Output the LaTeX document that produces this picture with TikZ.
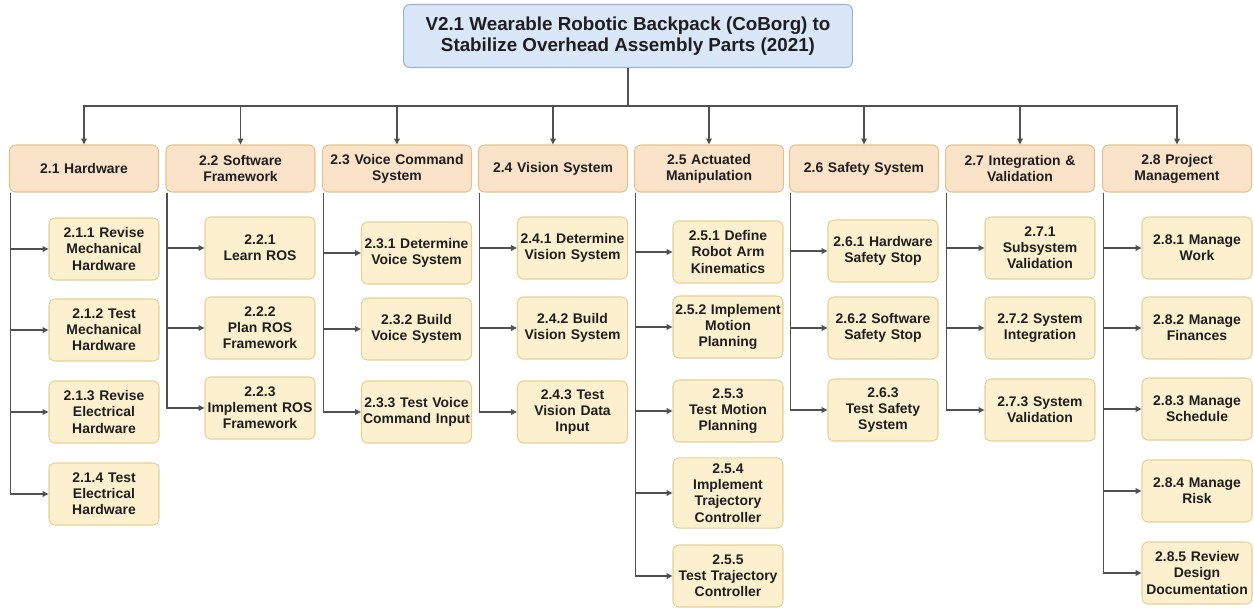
\documentclass[tikz,border=0pt]{standalone}
\usepackage{fontspec}
\setmainfont{Liberation Sans}
\usetikzlibrary{arrows.meta}

\definecolor{topfill}{HTML}{DAE7F9}
\definecolor{topline}{HTML}{9DB3D0}
\definecolor{headfill}{HTML}{FBE3CA}
\definecolor{headline}{HTML}{E6C28E}
\definecolor{taskfill}{HTML}{FDF0CE}
\definecolor{taskline}{HTML}{E6D196}
\definecolor{linkgray}{HTML}{505050}
\definecolor{inkgray}{HTML}{1E1E1E}

\newcommand{\titlefont}{\fontsize{10.7}{12.2}\selectfont\bfseries}
\newcommand{\boxfont}{\fontsize{7.94}{9.2}\selectfont\bfseries}

\tikzset{
  topbox/.style={draw=topline, fill=topfill, rounded corners=3.5pt, line width=0.6pt,
    minimum width=8.98cm, minimum height=1.26cm, align=center, text=inkgray, font=\titlefont},
  headbox/.style={draw=headline, fill=headfill, rounded corners=3.5pt, line width=0.6pt,
    minimum width=2.98cm, minimum height=0.94cm, text width=2.9cm, inner xsep=0.04cm,
    align=center, text=inkgray, font=\boxfont},
  taskbox/.style={draw=taskline, fill=taskfill, rounded corners=3.5pt, line width=0.6pt,
    minimum width=2.2cm, minimum height=1.24cm, text width=2.16cm, inner xsep=0.02cm,
    align=center, text=inkgray, font=\boxfont},
  link/.style={draw=linkgray, line width=0.75pt, -{Triangle[length=3.4pt,width=3.2pt]}},
}

\begin{document}
\begin{tikzpicture}[x=0.02cm, y=-0.02cm]
% \draw [help lines] (0,0) grid (1254,609);
\useasboundingbox (0,0) rectangle (1254,609);

\node[topbox] (top) at (628,36) {V2.1 Wearable Robotic Backpack (CoBorg) to\\Stabilize Overhead Assembly Parts (2021)};
\coordinate (bus) at (628,106);

% level 2
\node[headbox] (h1) at (84,168.5)   {2.1 Hardware};
\node[headbox] (h2) at (240.5,168.5) {2.2 Software\\Framework};
\node[headbox] (h3) at (397,168.5)  {2.3 Voice Command\\System};
\node[headbox] (h4) at (553,168.5)  {2.4 Vision System};
\node[headbox] (h5) at (709,168.5)  {2.5 Actuated\\Manipulation};
\node[headbox] (h6) at (864,168.5)  {2.6 Safety System};
\node[headbox] (h7) at (1020,168.5) {2.7 Integration \&\\Validation};
\node[headbox] (h8) at (1177,168.5) {2.8 Project\\Management};

% level 3
\node[taskbox] (c11) at (104,249) {2.1.1 Revise\\Mechanical\\Hardware};
\node[taskbox] (c12) at (104,330) {2.1.2 Test\\Mechanical\\Hardware};
\node[taskbox] (c13) at (104,412) {2.1.3 Revise\\Electrical\\Hardware};
\node[taskbox] (c14) at (104,494) {2.1.4 Test\\Electrical\\Hardware};

\node[taskbox] (c21) at (260,248) {2.2.1\\Learn ROS};
\node[taskbox] (c22) at (260,328) {2.2.2\\Plan ROS\\Framework};
\node[taskbox] (c23) at (260,408) {2.2.3\\Implement ROS\\Framework};

\node[taskbox] (c31) at (416.5,253) {2.3.1 Determine\\Voice System};
\node[taskbox] (c32) at (416.5,329) {2.3.2 Build\\Voice System};
\node[taskbox] (c33) at (416.5,412) {2.3.3 Test Voice\\Command Input};

\node[taskbox] (c41) at (572.5,248) {2.4.1 Determine\\Vision System};
\node[taskbox] (c42) at (572.5,328) {2.4.2 Build\\Vision System};
\node[taskbox] (c43) at (572.5,412) {2.4.3 Test\\Vision Data\\Input};

\node[taskbox] (c51) at (728,252) {2.5.1 Define\\Robot Arm\\Kinematics};
\node[taskbox] (c52) at (728,327) {2.5.2 Implement\\Motion\\Planning};
\node[taskbox] (c53) at (728,411) {2.5.3\\Test Motion\\Planning};
\node[taskbox, minimum height=1.4cm] (c54) at (728,493) {2.5.4\\Implement\\Trajectory\\Controller};
\node[taskbox] (c55) at (728,576) {2.5.5\\Test Trajectory\\Controller};

\node[taskbox] (c61) at (883,251) {2.6.1 Hardware\\Safety Stop};
\node[taskbox] (c62) at (883,328) {2.6.2 Software\\Safety Stop};
\node[taskbox] (c63) at (883,410) {2.6.3\\Test Safety\\System};

\node[taskbox] (c71) at (1040,248) {2.7.1\\Subsystem\\Validation};
\node[taskbox] (c72) at (1040,328) {2.7.2 System\\Integration};
\node[taskbox] (c73) at (1040,410) {2.7.3 System\\Validation};

\node[taskbox] (c81) at (1197,248) {2.8.1 Manage\\Work};
\node[taskbox] (c82) at (1197,328) {2.8.2 Manage\\Finances};
\node[taskbox] (c83) at (1197,409) {2.8.3 Manage\\Schedule};
\node[taskbox] (c84) at (1197,491) {2.8.4 Manage\\Risk};
\node[taskbox] (c85) at (1197,573) {2.8.5 Review\\Design\\Documentation};

% connectors
\foreach \h/\n in {1/4,2/3,3/3,4/3,5/5,6/3,7/3,8/5} {
  \draw[link] (top.south) -- (top.south |- bus) -| (h\h.north);
  \coordinate (t\h) at ([xshift=0.03cm]h\h.south west);
  \foreach \k in {1,...,\n}
    \draw[link] (t\h) |- (c\h\k.west);
}
\end{tikzpicture}
\end{document}
